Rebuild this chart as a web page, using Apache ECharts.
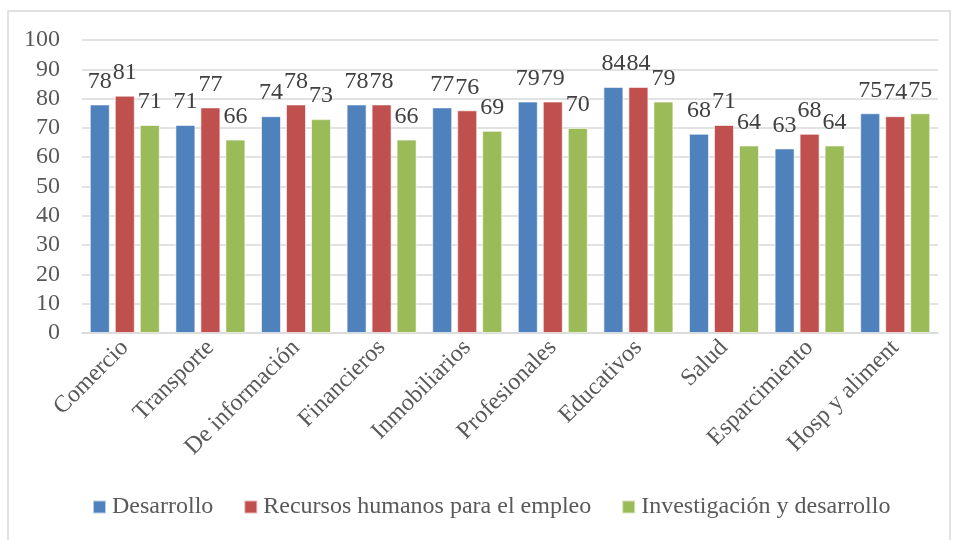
<!DOCTYPE html>
<html>
<head>
<meta charset="utf-8">
<script src="https://cdn.jsdelivr.net/npm/echarts@6/dist/echarts.min.js"></script>
<style>
  html, body { margin: 0; padding: 0; background: #fff; }
  #chart { width: 955px; height: 540px; }
</style>
</head>
<body>
<div id="chart"></div>
<script>
// Sectors along the horizontal axis
const categories = ['Comercio', 'Transporte', 'De información', 'Financieros', 'Inmobiliarios',
  'Profesionales', 'Educativos', 'Salud', 'Esparcimiento', 'Hosp y aliment'];

// Scores per sector for each area
const desarrollo = [78, 71, 74, 78, 77, 79, 84, 68, 63, 75];
const recursosHumanos = [81, 77, 78, 78, 76, 79, 84, 71, 68, 74];
const investigacion = [71, 66, 73, 66, 69, 70, 79, 64, 64, 75];

const seriesNames = ['Desarrollo', 'Recursos humanos para el empleo', 'Investigación y desarrollo'];
const seriesColors = ['#4F81BD', '#C0504D', '#9BBB59'];

const font = '"Liberation Serif", "Times New Roman", serif';

function barSeries(name, data, color) {
  return {
    name: name,
    type: 'bar',
    data: data,
    barWidth: 20,
    barGap: '25%',
    itemStyle: { color: color, borderColor: 'rgba(255,255,255,0.6)', borderWidth: 1 },
    label: {
      show: true,
      position: 'top',
      distance: 11,
      fontFamily: font,
      fontSize: 24,
      color: '#404040'
    }
  };
}

const chart = echarts.init(document.getElementById('chart'), null, { renderer: 'canvas' });
chart.setOption({
  animation: false,
  backgroundColor: '#fff',
  graphic: [{
    type: 'rect',
    shape: { x: 8, y: 11, width: 942, height: 540 },
    style: { fill: 'none', stroke: '#D9D9D9', lineWidth: 1.5 },
    silent: true
  }],
  grid: { left: 82, right: 17, top: 40, bottom: 207 },
  legend: {
    bottom: 16,
    left: 87,
    itemWidth: 13,
    itemHeight: 13,
    itemGap: 30,
    icon: 'rect',
    textStyle: { fontFamily: font, fontSize: 24, color: '#595959', padding: [0, 0, 0, 1] },
    data: seriesNames
  },
  xAxis: {
    type: 'category',
    data: categories,
    axisLine: { lineStyle: { color: '#D9D9D9', width: 1.5 } },
    axisTick: { show: false },
    axisLabel: {
      rotate: 45,
      interval: 0,
      margin: 11,
      fontFamily: font,
      fontSize: 24,
      color: '#595959'
    }
  },
  yAxis: {
    type: 'value',
    min: 0,
    max: 100,
    interval: 10,
    axisLine: { show: false },
    axisTick: { show: false },
    splitLine: { lineStyle: { color: '#D9D9D9', width: 1.5 } },
    axisLabel: {
      margin: 22,
      fontFamily: font,
      fontSize: 24,
      color: '#595959'
    }
  },
  series: [
    barSeries(seriesNames[0], desarrollo, seriesColors[0]),
    barSeries(seriesNames[1], recursosHumanos, seriesColors[1]),
    barSeries(seriesNames[2], investigacion, seriesColors[2])
  ]
});
</script>
</body>
</html>
